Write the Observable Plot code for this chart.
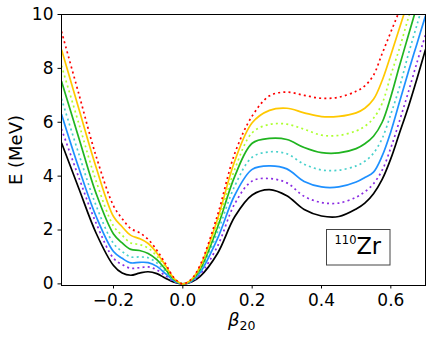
<!DOCTYPE html>
<html><head><meta charset="utf-8">
<script src="https://cdn.jsdelivr.net/npm/d3@7"></script>
<script src="https://cdn.jsdelivr.net/npm/@observablehq/plot@0.6"></script>
<style>body{margin:0;background:#fff} svg{display:block}</style>
</head><body><div id="chart"></div>
<script>
// deformation grid (beta_20)
const beta = [-0.35,-0.3,-0.25,-0.2,-0.175,-0.15,-0.125,-0.1,-0.075,-0.05,-0.025,0,0.025,0.05,0.1,0.15,0.2,0.25,0.3,0.35,0.4,0.45,0.5,0.525,0.55,0.575,0.6,0.625,0.65,0.675,0.7];
// energy curves (MeV), bottom to top
const E_black  = [5.24,3.54,1.88,0.68,0.40,0.32,0.40,0.45,0.38,0.21,0.06,0,0.07,0.28,1.13,2.50,3.30,3.50,3.27,2.76,2.52,2.50,2.78,3.00,3.35,3.88,4.65,5.60,6.55,7.60,8.70];
const E_purple = [5.75,3.95,2.25,0.95,0.72,0.58,0.60,0.63,0.52,0.30,0.08,0,0.09,0.35,1.40,2.98,3.82,3.91,3.75,3.25,3.02,3.00,3.22,3.42,3.72,4.22,5.05,6.05,7.10,8.20,9.25];
const E_blue   = [6.30,4.30,2.50,1.20,0.95,0.78,0.80,0.79,0.65,0.38,0.11,0,0.10,0.42,1.68,3.30,4.25,4.38,4.27,3.80,3.60,3.60,3.78,3.95,4.15,4.75,5.65,6.75,7.85,8.90,9.95];
const E_turq   = [6.87,4.82,2.90,1.50,1.20,1.00,1.00,0.97,0.78,0.46,0.13,0,0.12,0.48,1.92,3.64,4.70,4.90,4.83,4.44,4.23,4.22,4.38,4.55,4.85,5.40,6.30,7.30,8.50,9.60,10.7];
const E_green  = [7.52,5.42,3.35,1.85,1.52,1.28,1.24,1.13,0.90,0.54,0.16,0,0.14,0.54,2.10,4.00,5.22,5.40,5.36,5.06,4.87,4.86,5.02,5.20,5.48,6.00,6.95,8.10,9.20,10.3,11.4];
const E_gy     = [8.10,5.95,3.81,2.15,1.80,1.52,1.46,1.33,1.03,0.61,0.18,0,0.15,0.60,2.25,4.26,5.61,5.92,5.93,5.74,5.52,5.51,5.68,5.85,6.15,6.70,7.75,8.75,9.85,10.9,12.0];
const E_gold   = [8.70,6.50,4.32,2.50,2.12,1.80,1.68,1.50,1.15,0.68,0.20,0,0.17,0.65,2.40,4.57,5.98,6.44,6.52,6.35,6.21,6.22,6.35,6.52,6.85,7.55,8.50,9.50,10.5,11.5,12.5];
const E_red    = [9.37,7.05,4.73,2.90,2.42,2.05,1.90,1.65,1.25,0.75,0.22,0,0.18,0.70,2.55,4.85,6.23,6.98,7.12,7.00,6.89,6.93,7.15,7.35,7.75,8.55,9.35,10.15,11.0,11.9,12.8];

const seriesValues = [E_black, E_purple, E_blue, E_turq, E_green, E_gy, E_gold, E_red];
const seriesColors = ["#000000","#8a2be2","#1e90ff","#48d1cc","#20b420","#adff2f","#ffc800","#ff0000"];
const seriesDotted = [false,true,false,true,false,true,false,true];

const xTicks = [-0.2, 0.0, 0.2, 0.4, 0.6];
const yTicks = [0, 2, 4, 6, 8, 10];
const xLabel = "β";
const xLabelSub = "20";
const yLabel = "E (MeV)";
const nucleusMass = "110";
const nucleusSymbol = "Zr";

const W = 436, H = 340;
const mL = 61, mR = 11, mT = 14, mB = 55;

const lineMarks = seriesValues.map((vals, i) => {
  const rows = beta.map((b, j) => ({beta: b, E: vals[j]}));
  return Plot.line(rows, {
    x: "beta", y: "E",
    stroke: seriesColors[i],
    strokeWidth: 1.7,
    strokeDasharray: seriesDotted[i] ? "2,3.2" : null,
    strokeLinecap: "butt",
    curve: "catmull-rom",
    clip: true
  });
});

const fmtX = d => (d < 0 ? "\u2212" : "") + Math.abs(d).toFixed(1);

const chart = Plot.plot({
  width: W, height: H,
  marginLeft: mL, marginRight: mR, marginTop: mT, marginBottom: mB,
  style: {fontFamily: "DejaVu Sans", background: "#fff", color: "#000"},
  x: {domain: [-0.35, 0.7]},
  y: {domain: [-0.06, 10]},
  marks: [
    ...lineMarks,
    Plot.frame({stroke: "#000", strokeWidth: 1}),
    Plot.axisX({ticks: xTicks, tickSize: 3.5, tickPadding: 5, tickFormat: fmtX, fontSize: 17, label: null}),
    Plot.axisY({ticks: yTicks, tickSize: 3.5, tickPadding: 4.5, tickFormat: d => String(d), fontSize: 17, label: null})
  ]
});

document.getElementById("chart").appendChild(chart);

// axis titles and nucleus label
const svg = d3.select(chart);
svg.append("text")
  .attr("transform", "translate(22,150) rotate(-90)")
  .attr("text-anchor", "middle")
  .attr("font-family", "DejaVu Sans").attr("font-size", 18)
  .attr("fill", "#000")
  .text(yLabel);

const xl = svg.append("text")
  .attr("x", 228).attr("y", 326)
  .attr("text-anchor", "start")
  .attr("font-family", "DejaVu Sans").attr("font-size", 18).attr("fill", "#000");
xl.append("tspan").attr("font-style", "italic").text(xLabel);
xl.append("tspan").attr("dy", 4).attr("font-size", 12.5).text(xLabelSub);

svg.append("rect")
  .attr("x", 326.5).attr("y", 229.5).attr("width", 63.5).attr("height", 35.5)
  .attr("fill", "#fff").attr("stroke", "#444").attr("stroke-width", 1);
const lg = svg.append("text")
  .attr("x", 334.5).attr("y", 253.5)
  .attr("text-anchor", "start")
  .attr("font-family", "DejaVu Sans").attr("fill", "#000");
lg.append("tspan").attr("font-size", 11.5).attr("dy", -10).text(nucleusMass);
lg.append("tspan").attr("font-size", 22.5).attr("dy", 10).text(nucleusSymbol);
</script>
</body></html>
